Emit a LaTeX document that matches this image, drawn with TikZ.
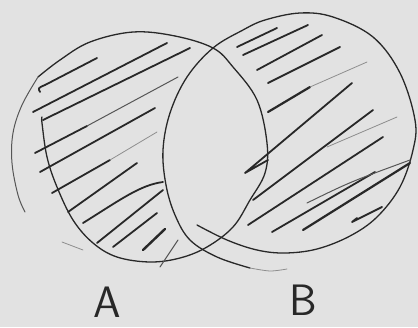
\documentclass[tikz,border=0pt]{standalone}
\usepackage{fontspec}
\definecolor{paper}{RGB}{226,226,226}
\definecolor{ink}{RGB}{40,40,40}
\tikzset{
  outline/.style={ink, line width=1.3pt, line cap=round, line join=round},
  faintline/.style={ink!45!paper, line width=0.8pt, line cap=round},
  hatch/.style={ink, line width=1.8pt, line cap=round, line join=round},
  thinhatch/.style={ink!75!paper, line width=1pt, line cap=round, line join=round},
  lbl/.style={font=\sffamily\fontsize{44}{44}\selectfont, text=ink, inner sep=0pt}
}
\begin{document}
\begin{tikzpicture}[x=1pt,y=-1pt]
\fill[paper] (0,0) rectangle (418,327);
\useasboundingbox (0,0) rectangle (418,327);
\clip (0,0) rectangle (418,327);

% ---- set A outline ----
\draw[outline] plot[smooth, tension=0.6] coordinates {(42,117) (42,123) (47,157) (57,187) (73,220) (93,243) (117,257) (150,262) (180,258) (207,247) (233,227) (250,200) (265,173) (267,143) (257,100) (233,67) (213,48) (175,36) (133,32) (90,42) (60,60) (38,77)};
\draw[faintline, ink!75!paper, line width=1pt] plot[smooth, tension=0.6] coordinates {(38,77) (22,105) (13,133) (12,163) (18,195) (25,212)};
\draw[faintline] (62,242) -- (83,250);

% ---- set B outline ----
\draw[outline] plot[smooth, tension=0.6] coordinates {(197,225) (227,240) (257,250) (285,253) (317,249) (350,236) (377,217) (400,187) (413,150) (415,120) (400,73) (373,37) (333,17) (300,13) (265,20) (243,30) (213,48) (187,77) (170,113) (163,150) (166,185) (175,215) (190,240) (217,257) (250,268)};
\draw[faintline] plot[smooth] coordinates {(250,268) (270,271) (287,269)};

% ---- hatching in A ----
\draw[hatch] (40,92) .. controls (38,88) .. (45,85) -- (97,58);
\draw[hatch] (33,112) -- (167,43);
\draw[hatch] (43,120) -- (190,48);
\draw[hatch] (35,153) -- (87,126);
\draw[thinhatch] (87,126) -- (178,77);
\draw[hatch] (40,172) -- (155,108);
\draw[hatch] (52,193) -- (110,160);
\draw[faintline] (110,160) -- (157,132);
\draw[hatch] (68,212) -- (137,163);
\draw[hatch] (83,223) .. controls (120,200) and (140,185) .. (163,182);
\draw[hatch] (97,243) -- (163,190);
\draw[hatch] (113,247) -- (157,213);
\draw[hatch, line width=2.4pt] (143,250) -- (165,229);
\draw[thinhatch] (160,267) -- (178,240);

% ---- hatching in B ----
\draw[hatch] (237,47) -- (277,28);
\draw[hatch] (243,55) -- (308,25);
\draw[hatch] (257,70) -- (322,35);
\draw[hatch] (268,83) -- (340,47);
\draw[hatch, line width=2.2pt] (268,112) -- (310,87);
\draw[faintline] (310,87) -- (367,62);
\draw[hatch] (268,160) -- (245,173) -- (352,83);
\draw[hatch] (253,200) -- (373,110);
\draw[hatch] (248,225) -- (383,137);
\draw[faintline] (327,147) -- (397,117);
\draw[hatch] (272,232) -- (375,172);
\draw[thinhatch] (307,203) .. controls (350,182) .. (410,160);
\draw[hatch, line width=2.2pt] (303,230) -- (410,163);
\draw[hatch] (357,218) -- (352,222) -- (382,207);

% ---- labels ----
\node[lbl] (labelA) at (107,302) {A};
\node[lbl] (labelB) at (303,300) {B};
\end{tikzpicture}
\end{document}
